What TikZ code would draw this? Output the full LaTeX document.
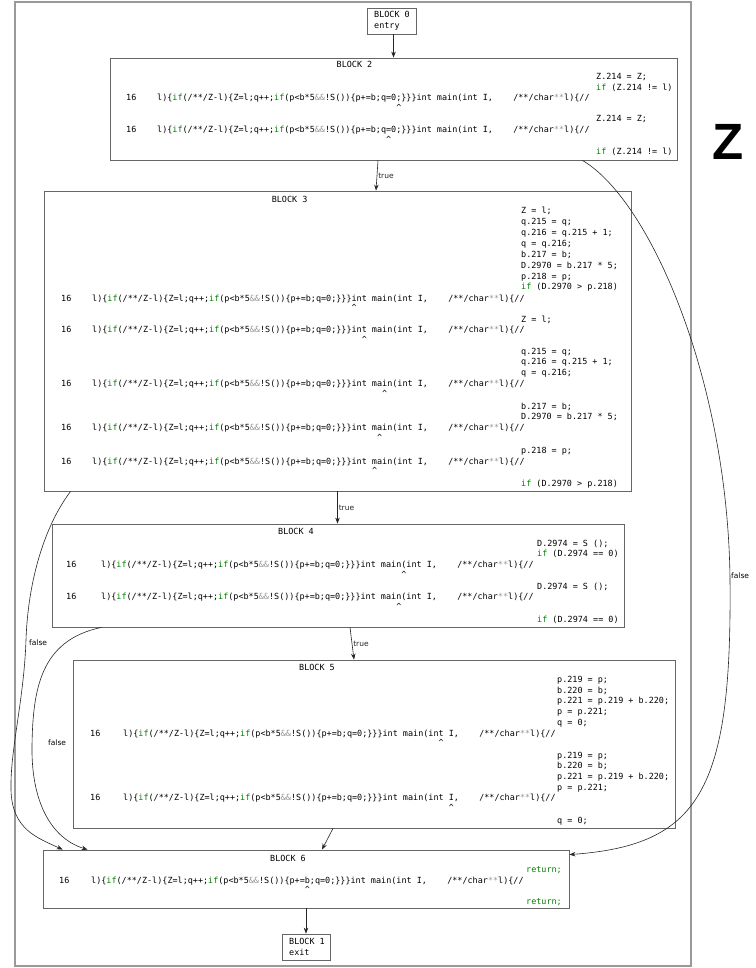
\documentclass[tikz,border=0pt]{standalone}
\usepackage{fontspec}
\setmainfont{DejaVu Sans}
\setmonofont{DejaVu Sans Mono}
\newfontfamily\zfont{Liberation Sans}
\usetikzlibrary{arrows.meta, calc}

\definecolor{kwgreen}{RGB}{0,128,0}
\definecolor{opgray}{RGB}{150,150,150}
\newcommand{\kwd}[1]{\textcolor{kwgreen}{#1}}
\newcommand{\opc}[1]{\textcolor{opgray}{#1}}
\newcommand{\srcline}{l)\{\kwd{if}(/**/Z-l)\{Z=l;q++;\kwd{if}(p<b*5\opc{\&\&}!S())\{p+=b;q=0;\}\}\}int main(int I,\ \ \ \ /**/char\opc{**}l)\{//}
\def\cw{5.088}

\begin{document}
\begin{tikzpicture}[x=1pt, y=-1pt,
    font=\ttfamily\fontsize{8.45}{10.7}\selectfont,
    cluster/.style={rectangle, draw=black!40, line width=1.3pt, inner sep=0pt},
    block/.style={rectangle, draw=black!60, line width=0.8pt, inner sep=0pt},
    code/.style={anchor=base west, inner sep=0pt},
    title/.style={anchor=base, inner sep=0pt},
    edge/.style={-{Stealth[length=6pt, width=4.5pt]}, line width=0.6pt, black!85},
    lbl/.style={font=\rmfamily\fontsize{7.5}{9}\selectfont, inner sep=1pt}
]
    \useasboundingbox (0,0) rectangle (755,968);

    % Frame and blocks
    \node[cluster, minimum width=676pt, minimum height=964pt] (frame) at (353,484) {};
    \node[block, minimum width=49pt, minimum height=26pt] (b0) at (391.5,21) {};
    \node[block, minimum width=567pt, minimum height=102pt] (b2) at (393.5,109) {};
    \node[block, minimum width=587pt, minimum height=300pt] (b3) at (337.5,341) {};
    \node[block, minimum width=572pt, minimum height=103pt] (b4) at (338,575.5) {};
    \node[block, minimum width=602pt, minimum height=168pt] (b5) at (374,744) {};
    \node[block, minimum width=526pt, minimum height=58pt] (b6) at (306,879) {};
    \node[block, minimum width=48pt, minimum height=26pt] (b1) at (306,947) {};

    \node[font=\zfont\bfseries\fontsize{51}{51}\selectfont, inner sep=0pt] (zmark) at (728,141.5) {Z};

    % Block 0
    \node[code] (b0h) at (374,18) {BLOCK 0};
    \node[code] (b0e) at (374,29) {entry};

    % Block 2
    \node[title] (b2h) at (354.5,68) {BLOCK 2};
    \node[code] (b2s1) at (596,80) {Z.214 = Z;};
    \node[code] (b2s2) at (596,90.5) {\kwd{if} (Z.214 != l)};
    \node[code] (b2n1) at (126,101) {16};
    \node[code] (b2c1) at (157,101) {\srcline};
    \node[code] (b2k1) at ({157+47*\cw},110.9) {\textasciicircum};
    \node[code] (b2s3) at (596,122) {Z.214 = Z;};
    \node[code] (b2n2) at (126,132.5) {16};
    \node[code] (b2c2) at (157,132.5) {\srcline};
    \node[code] (b2k2) at ({157+45*\cw},142.4) {\textasciicircum};
    \node[code] (b2s4) at (596,155) {\kwd{if} (Z.214 != l)};

    % Block 3
    \node[title] (b3h) at (289.6,203) {BLOCK 3};
    \foreach \s [count=\i from 0] in {{Z = l;}, {q.215 = q;}, {q.216 = q.215 + 1;}, {q = q.216;}, {b.217 = b;}, {D.2970 = b.217 * 5;}, {p.218 = p;}, {\kwd{if} (D.2970 > p.218)}}
        \node[code] (b3a\i) at (521,214+10.85*\i) {\s};
    \node[code] (b3n1) at (61,301) {16};
    \node[code] (b3c1) at (92,301) {\srcline};
    \node[code] (b3k1) at ({92+51*\cw},310.9) {\textasciicircum};
    \node[code] (b3b0) at (521,322) {Z = l;};
    \node[code] (b3n2) at (61,332.5) {16};
    \node[code] (b3c2) at (92,332.5) {\srcline};
    \node[code] (b3k2) at ({92+53*\cw},342.4) {\textasciicircum};
    \foreach \s [count=\i from 0] in {{q.215 = q;}, {q.216 = q.215 + 1;}, {q = q.216;}}
        \node[code] (b3c\i) at (521,354+10.85*\i) {\s};
    \node[code] (b3n3) at (61,386.5) {16};
    \node[code] (b3c3) at (92,386.5) {\srcline};
    \node[code] (b3k3) at ({92+57*\cw},396.4) {\textasciicircum};
    \foreach \s [count=\i from 0] in {{b.217 = b;}, {D.2970 = b.217 * 5;}}
        \node[code] (b3d\i) at (521,409+10.85*\i) {\s};
    \node[code] (b3n4) at (61,430.7) {16};
    \node[code] (b3c4) at (92,430.7) {\srcline};
    \node[code] (b3k4) at ({92+56*\cw},440.6) {\textasciicircum};
    \node[code] (b3e0) at (521,453) {p.218 = p;};
    \node[code] (b3n5) at (61,464) {16};
    \node[code] (b3c5) at (92,464) {\srcline};
    \node[code] (b3k5) at ({92+55*\cw},473.9) {\textasciicircum};
    \node[code] (b3f0) at (521,486) {\kwd{if} (D.2970 > p.218)};

    % Block 4
    \node[title] (b4h) at (296,534) {BLOCK 4};
    \node[code] (b4s1) at (537,546) {D.2974 = S ();};
    \node[code] (b4s2) at (537,556.85) {\kwd{if} (D.2974 == 0)};
    \node[code] (b4n1) at (66,567.7) {16};
    \node[code] (b4c1) at (101,567.7) {\srcline};
    \node[code] (b4k1) at ({101+59*\cw},577.6) {\textasciicircum};
    \node[code] (b4s3) at (537,589) {D.2974 = S ();};
    \node[code] (b4n2) at (66,599.85) {16};
    \node[code] (b4c2) at (101,599.85) {\srcline};
    \node[code] (b4k2) at ({101+58*\cw},609.75) {\textasciicircum};
    \node[code] (b4s4) at (537,622) {\kwd{if} (D.2974 == 0)};

    % Block 5
    \node[title] (b5h) at (317,670) {BLOCK 5};
    \foreach \s [count=\i from 0] in {{p.219 = p;}, {b.220 = b;}, {p.221 = p.219 + b.220;}, {p = p.221;}, {q = 0;}}
        \node[code] (b5a\i) at (557,682.5+10.7*\i) {\s};
    \node[code] (b5n1) at (90,736) {16};
    \node[code] (b5c1) at (123,736) {\srcline};
    \node[code] (b5k1) at ({123+62*\cw},745.9) {\textasciicircum};
    \foreach \s [count=\i from 0] in {{p.219 = p;}, {b.220 = b;}, {p.221 = p.219 + b.220;}, {p = p.221;}}
        \node[code] (b5b\i) at (557,758+10.7*\i) {\s};
    \node[code] (b5n2) at (90,800.8) {16};
    \node[code] (b5c2) at (123,800.8) {\srcline};
    \node[code] (b5k2) at ({123+64*\cw},810.7) {\textasciicircum};
    \node[code] (b5s9) at (557,823) {q = 0;};

    % Block 6
    \node[title] (b6h) at (288,861) {BLOCK 6};
    \node[code, anchor=base east] (b6s1) at (562,872) {\kwd{return;}};
    \node[code] (b6n1) at (59,883) {16};
    \node[code] (b6c1) at (91,883) {\srcline};
    \node[code] (b6k1) at ({91+42*\cw},892.9) {\textasciicircum};
    \node[code, anchor=base east] (b6s2) at (562,904) {\kwd{return;}};

    % Block 1
    \node[code] (b1h) at (289,944) {BLOCK 1};
    \node[code] (b1e) at (289,955) {exit};

    % Edges
    \draw[edge] (b0.south -| b2.north) -- (b2.north);
    \draw[edge] ([xshift=-15.5pt]b2.south) -- node[lbl, right] {true} ([xshift=38.5pt]b3.north);
    \draw[edge] (b3.south) -- node[lbl, right] {true} (b3.south |- b4.north);
    \draw[edge] ([xshift=12pt]b4.south) -- node[lbl, right] {true} ([xshift=-20pt]b5.north);
    \draw[edge] ([xshift=-41pt]b5.south) -- ([xshift=16pt]b6.north);
    \draw[edge] (b6) -- (b1);

    \draw[edge] ([xshift=-95pt]b2.south east) .. controls (650,200) and (728,380) .. (730,580)
        .. controls (732,790) and (700,845) .. ([yshift=-5pt]b6.north east);
    \node[lbl, anchor=west] (f2) at (730,576) {false};

    \draw[edge] ([xshift=27pt]b3.south west) .. controls (45,525) and (28,580) .. (26,640)
        .. controls (24,700) and (10,750) .. (11,790)
        .. controls (12,830) and (38,838) .. ([xshift=20pt]b6.north west);
    \node[lbl, anchor=west] (f3) at (28,643) {false};

    \draw[edge] ([xshift=50pt]b4.south west) .. controls (40,640) and (33,690) .. (32,745)
        .. controls (31,800) and (50,838) .. ([xshift=45pt]b6.north west);
    \node[lbl, anchor=west] (f4) at (47,743) {false};
\end{tikzpicture}
\end{document}
